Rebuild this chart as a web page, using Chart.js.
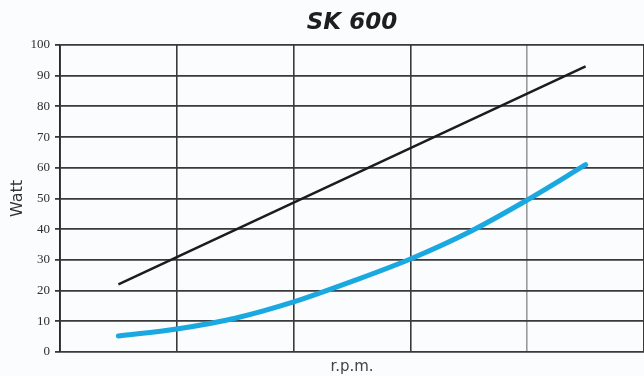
<!DOCTYPE html>
<html>
<head>
<meta charset="utf-8">
<script src="https://cdn.jsdelivr.net/npm/chart.js@4/dist/chart.umd.min.js"></script>
<style>
  html, body { margin: 0; padding: 0; background: #fafcfd; }
  #wrap { width: 644px; height: 376px; }
</style>
</head>
<body>
<div id="wrap"><canvas id="chart" width="644" height="376"></canvas></div>
<script>
// data
const rpmSteps = [0.5, 1, 1.5, 2, 2.5, 3, 3.5, 4, 4.5];
const blackWatt = [22, 30, 38, 46, 53.5, 61.5, 69.5, 77, 93];
const blueWatt = [5.2, 7.5, 11, 16.3, 23, 30.3, 39, 49.5, 61];
const yTicks = [0, 10, 20, 30, 40, 50, 60, 70, 80, 90, 100];

// black line is straight: only its ends are needed
const blackPts = [
  { x: rpmSteps[0], y: blackWatt[0] },
  { x: rpmSteps[rpmSteps.length - 1], y: blackWatt[blackWatt.length - 1] }
];
const bluePts = rpmSteps.map((x, i) => ({ x: x, y: blueWatt[i] }));

const bgPlugin = {
  id: 'bg',
  beforeDraw(chart) {
    const c = chart.ctx;
    c.save();
    c.fillStyle = '#fafcfd';
    c.fillRect(0, 0, chart.width, chart.height);
    c.restore();
    // centre the title over the plot, not the whole canvas
    if (chart.titleBlock) {
      chart.titleBlock.left = chart.chartArea.left;
      chart.titleBlock.right = chart.chartArea.right;
    }
  }
};

new Chart(document.getElementById('chart'), {
  type: 'line',
  data: {
    datasets: [
      {
        data: blackPts,
        borderColor: '#1c1c1c',
        borderWidth: 2.5,
        pointRadius: 0,
        tension: 0
      },
      {
        data: bluePts,
        borderColor: '#1aa8e0',
        borderWidth: 5,
        pointRadius: 0,
        cubicInterpolationMode: 'monotone',
        borderCapStyle: 'round'
      }
    ]
  },
  options: {
    responsive: false,
    animation: false,
    layout: { padding: 0 },
    plugins: {
      legend: { display: false },
      tooltip: { enabled: false },
      title: {
        display: true,
        text: 'SK 600',
        color: '#1e1e1e',
        font: { family: 'DejaVu Sans', size: 23, weight: 'bold', style: 'italic' },
        padding: { top: 9, bottom: 8.4 }
      }
    },
    scales: {
      x: {
        type: 'linear',
        min: 0,
        max: 5,
        ticks: { display: false, stepSize: 1 },
        grid: {
          drawTicks: false,
          lineWidth: 1.6,
          color: ctx => ctx.tick && ctx.tick.value === 4 ? '#9a9a9a' : '#3a3a3a'
        },
        border: { display: false },
        title: {
          display: true,
          text: 'r.p.m.',
          color: '#444',
          font: { family: 'DejaVu Sans', size: 15 },
          padding: { top: 5, bottom: 0 }
        },
        afterFit(scale) { scale.height = 24; }
      },
      y: {
        min: 0,
        max: 100,
        afterBuildTicks(scale) { scale.ticks = yTicks.map(v => ({ value: v })); },
        ticks: {
          color: '#2e2e2e',
          padding: 5,
          font: { family: 'Liberation Serif', size: 13 }
        },
        grid: {
          tickLength: 5,
          lineWidth: 1.8,
          color: '#3a3a3a'
        },
        border: { color: '#2a2a2a', width: 1.8 },
        title: {
          display: true,
          text: 'Watt',
          color: '#333',
          font: { family: 'DejaVu Sans', size: 16 },
          padding: { top: 8, bottom: 0 }
        },
        afterFit(scale) { scale.width = 60; }
      }
    }
  },
  plugins: [bgPlugin]
});
</script>
</body>
</html>
